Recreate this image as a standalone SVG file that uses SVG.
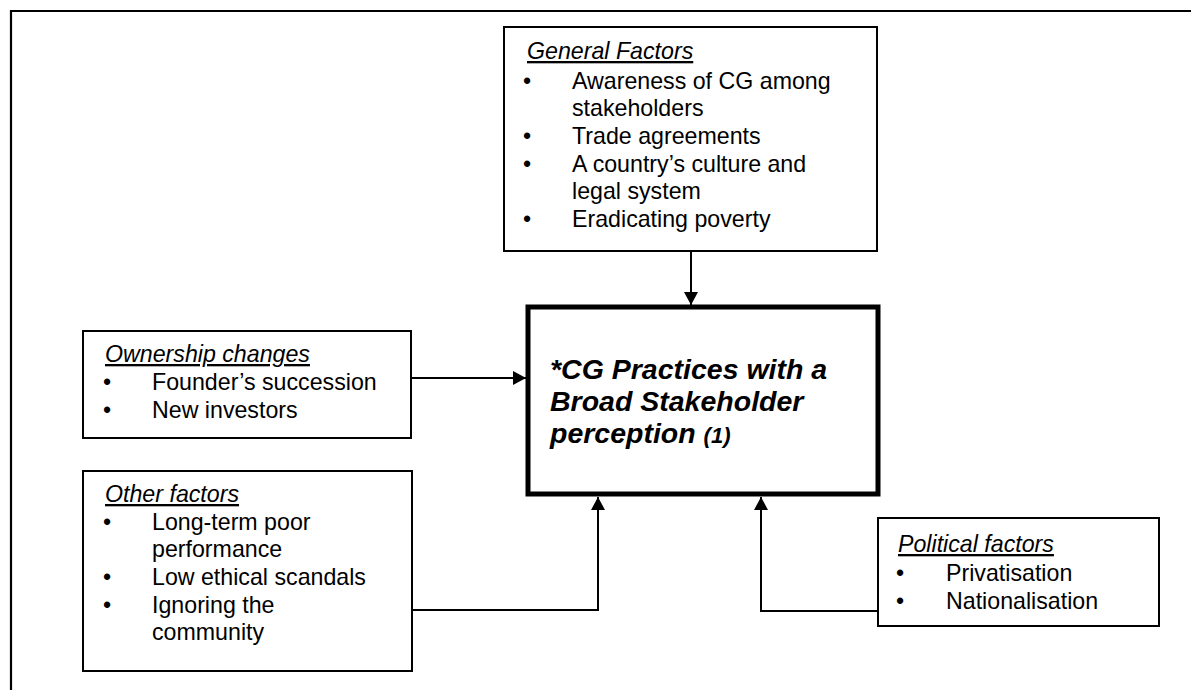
<svg xmlns="http://www.w3.org/2000/svg" width="1191" height="690" viewBox="0 0 1191 690">
  <style>
    text { font-family: "Liberation Sans", Arial, sans-serif; fill: #000; }
    .item { font-size: 23.2px; }
    .title { font-size: 23.2px; font-style: italic; text-decoration: underline; }
    .box { fill: #fff; stroke: #000; stroke-width: 2; }
    .main { fill: #fff; stroke: #000; stroke-width: 5; }
    .wire { fill: none; stroke: #000; stroke-width: 2; }
    .head { font-size: 28.5px; font-weight: bold; font-style: italic; }
  </style>
  <defs>
    <marker id="arrow" viewBox="0 0 13 14" refX="13" refY="7" markerWidth="13" markerHeight="14" markerUnits="userSpaceOnUse" orient="auto">
      <path d="M0,0 L13,7 L0,14 Z" fill="#000"/>
    </marker>
  </defs>
  <rect width="1191" height="690" fill="#fff"/>

  <!-- page frame -->
  <path d="M11,690 V11 H1191" fill="none" stroke="#000" stroke-width="2.2"/>

  <!-- connectors -->
  <g id="connectors">
    <path class="wire" d="M691,252 V305" marker-end="url(#arrow)"/>
    <path class="wire" d="M412,378 H526" marker-end="url(#arrow)"/>
    <path class="wire" d="M412,610 H598 V497" marker-end="url(#arrow)"/>
    <path class="wire" d="M878,611 H761 V497" marker-end="url(#arrow)"/>
  </g>

  <g id="general-factors">
    <rect class="box" x="504" y="27" width="373" height="224"/>
    <text class="title" x="527" y="59">General Factors</text>
    <g class="item">
      <text x="523" y="89">•</text>
      <text x="572" y="89">Awareness of CG among</text>
      <text x="572" y="116">stakeholders</text>
      <text x="523" y="144">•</text>
      <text x="572" y="144">Trade agreements</text>
      <text x="523" y="172">•</text>
      <text x="572" y="172">A country’s culture and</text>
      <text x="572" y="199">legal system</text>
      <text x="523" y="227">•</text>
      <text x="572" y="227">Eradicating poverty</text>
    </g>
  </g>

  <g id="cg-practices">
    <rect class="main" x="528" y="307" width="350" height="187"/>
    <text class="head" x="550" y="379">*CG Practices with a</text>
    <text class="head" x="550" y="411">Broad Stakeholder</text>
    <text class="head" x="550" y="443">perception <tspan font-size="22">(1)</tspan></text>
  </g>

  <g id="ownership-changes">
    <rect class="box" x="83" y="331" width="328" height="107"/>
    <text class="title" x="105" y="362">Ownership changes</text>
    <g class="item">
      <text x="103" y="390">•</text>
      <text x="152" y="390">Founder’s succession</text>
      <text x="103" y="418">•</text>
      <text x="152" y="418">New investors</text>
    </g>
  </g>

  <g id="other-factors">
    <rect class="box" x="83" y="471" width="329" height="200"/>
    <text class="title" x="105" y="502">Other factors</text>
    <g class="item">
      <text x="103" y="530">•</text>
      <text x="152" y="530">Long-term poor</text>
      <text x="152" y="557">performance</text>
      <text x="103" y="585">•</text>
      <text x="152" y="585">Low ethical scandals</text>
      <text x="103" y="613">•</text>
      <text x="152" y="613">Ignoring the</text>
      <text x="152" y="640">community</text>
    </g>
  </g>

  <g id="political-factors">
    <rect class="box" x="878" y="518" width="281" height="108"/>
    <text class="title" x="898" y="552">Political factors</text>
    <g class="item">
      <text x="896" y="581">•</text>
      <text x="946" y="581">Privatisation</text>
      <text x="896" y="609">•</text>
      <text x="946" y="609">Nationalisation</text>
    </g>
  </g>
</svg>
